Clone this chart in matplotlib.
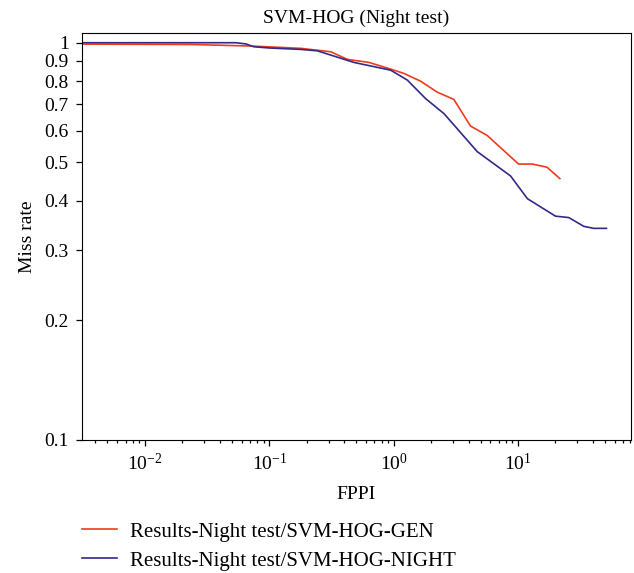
import matplotlib
matplotlib.use("Agg")
import matplotlib.pyplot as plt
from matplotlib.ticker import FixedLocator, FixedFormatter, LogLocator, NullFormatter

plt.rcParams["font.family"] = "Liberation Serif"
plt.rcParams["mathtext.fontset"] = "stix"

# FPPI / miss rate
gen_fppi = [0.0032, 0.0234, 0.071, 0.179, 0.312, 0.425, 0.634, 0.917, 1.21, 1.65,
            2.24, 3.05, 4.15, 5.66, 10.1, 13.0, 17.1, 21.7]
gen_miss = [0.992, 0.99, 0.981, 0.968, 0.949, 0.908, 0.892, 0.861, 0.837, 0.80,
            0.751, 0.72, 0.617, 0.584, 0.495, 0.495, 0.486, 0.455]

night_fppi = [0.0032, 0.0538, 0.065, 0.075, 0.1, 0.179, 0.244, 0.48, 0.946, 1.29,
              1.81, 2.54, 4.70, 8.71, 11.9, 20.0, 25.6, 33.8, 40.6, 51.4]
night_miss = [1.0, 1.0, 0.993, 0.977, 0.97, 0.962, 0.954, 0.892, 0.853, 0.805,
              0.723, 0.663, 0.532, 0.462, 0.405, 0.366, 0.363, 0.345, 0.341, 0.341]

ytick_vals = [0.1, 0.2, 0.3, 0.4, 0.5, 0.6, 0.7, 0.8, 0.9, 1]
ytick_labels = ["0.1", "0.2", "0.3", "0.4", "0.5", "0.6", "0.7", "0.8", "0.9", "1"]

fs = 14

fig = plt.figure(figsize=(6.34, 5.73), dpi=100)
ax = fig.add_axes([82 / 634, 1 - 440 / 573, 549 / 634, 407 / 573])

ax.loglog(gen_fppi, gen_miss, color="#ee3b1c", lw=1.2, label="Results-Night test/SVM-HOG-GEN")
ax.loglog(night_fppi, night_miss, color="#34288a", lw=1.2, label="Results-Night test/SVM-HOG-NIGHT")

ax.set_xlim(0.00312, 81)
ax.set_ylim(0.1, 1.058)

ax.yaxis.set_major_locator(FixedLocator(ytick_vals))
ax.yaxis.set_major_formatter(FixedFormatter(ytick_labels))
ax.yaxis.set_minor_locator(FixedLocator([]))
ax.xaxis.set_major_locator(LogLocator(base=10))
ax.xaxis.set_minor_locator(LogLocator(base=10, subs=range(2, 10)))
ax.xaxis.set_minor_formatter(NullFormatter())

ax.tick_params(which="both", direction="out", top=False, right=False, labelsize=fs, width=0.9)
ax.tick_params(which="major", length=4.5, pad=5)
ax.tick_params(which="minor", length=2.5)

ax.set_title("SVM-HOG (Night test)", fontsize=fs, pad=7)
ax.set_xlabel("FPPI", fontsize=fs, labelpad=8)
ax.set_ylabel("Miss rate", fontsize=fs, labelpad=6)

fig.legend(loc="upper left", bbox_to_anchor=(82 / 634, 1 - 522 / 573), frameon=False,
           fontsize=15, handlelength=1.7, handletextpad=0.6, labelspacing=0.45,
           borderpad=0, borderaxespad=0)

fig.savefig("out.png", dpi=100)
